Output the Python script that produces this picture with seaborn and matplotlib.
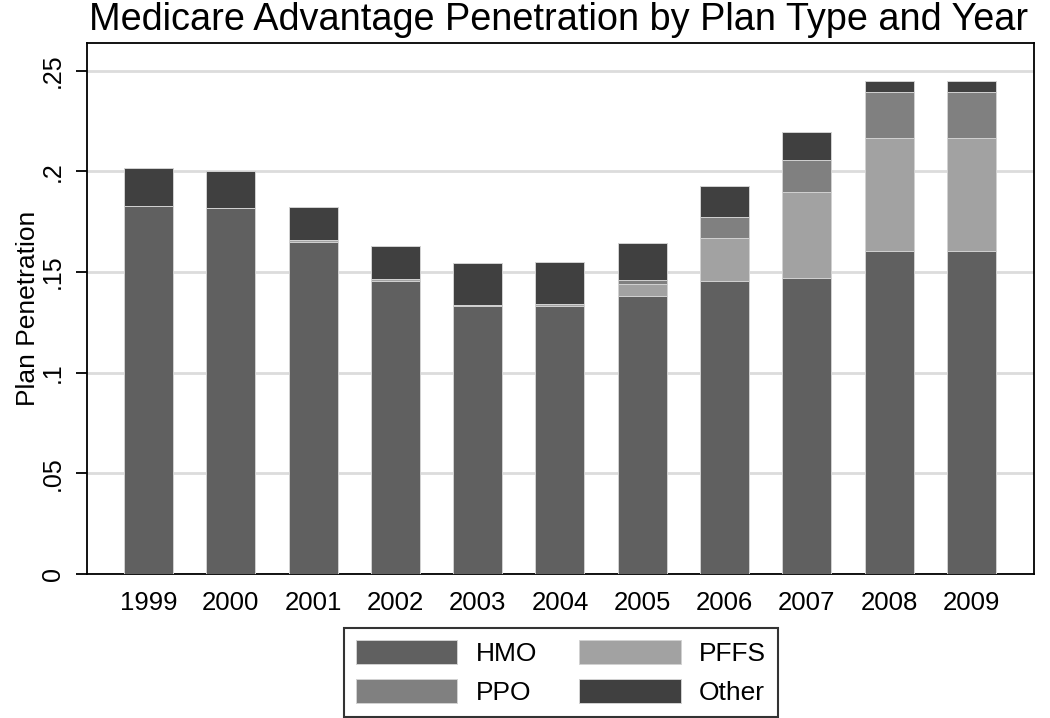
import numpy as np
import pandas as pd
import matplotlib
matplotlib.use("Agg")
import matplotlib.pyplot as plt
from matplotlib.patches import Patch
import seaborn as sns

# values (share of Medicare beneficiaries)
years = ["1999", "2000", "2001", "2002", "2003", "2004", "2005", "2006", "2007", "2008", "2009"]
hmo = [0.1826, 0.1816, 0.1647, 0.1458, 0.1329, 0.1329, 0.1382, 0.1458, 0.1470, 0.1604, 0.1606]
pffs = [0.0, 0.0, 0.0010, 0.0007, 0.0008, 0.0014, 0.0059, 0.0209, 0.0426, 0.0562, 0.0560]
ppo = [0.0, 0.0, 0.0, 0.0, 0.0, 0.0, 0.0021, 0.0109, 0.0162, 0.0228, 0.0228]
other = [0.0192, 0.0184, 0.0166, 0.0166, 0.0206, 0.0205, 0.0182, 0.0154, 0.0138, 0.0053, 0.0053]

colors = {"HMO": "#606060", "PFFS": "#a2a2a2", "PPO": "#808080", "Other": "#404040"}

df = pd.DataFrame({"year": years, "HMO": hmo, "PFFS": pffs, "PPO": ppo, "Other": other})
# cumulative heights, stacked bottom-up: HMO, PFFS, PPO, Other
stack = ["HMO", "PFFS", "PPO", "Other"]
cum = df[stack].cumsum(axis=1)

sns.set_style("white")
plt.rcParams["font.family"] = ["Liberation Sans", "DejaVu Sans"]
plt.rcParams["text.color"] = "black"
plt.rcParams["axes.labelcolor"] = "black"
plt.rcParams["xtick.color"] = "black"
plt.rcParams["ytick.color"] = "black"

fig = plt.figure(figsize=(10.5, 7.18), dpi=100)
ax = fig.add_axes([87 / 1050, 1 - 574 / 718, 947 / 1050, 531 / 718])

# draw tallest cumulative first so lower segments sit on top
for name in reversed(stack):
    sns.barplot(x=df["year"], y=cum[name], color=colors[name], saturation=1,
                width=0.595, edgecolor="#d2d2d2", linewidth=0.7, ax=ax, zorder=3)

ax.set_xlim(-0.747, 10.76)
ax.set_ylim(0, 0.2638)
yt = [0, 0.05, 0.1, 0.15, 0.2, 0.25]
ax.set_yticks(yt)
ax.set_yticklabels(["0", ".05", ".1", ".15", ".2", ".25"], rotation=90, va="center")
ax.grid(axis="y", color="#dcdcdc", linewidth=2, zorder=0)
ax.set_axisbelow(True)
ax.tick_params(axis="y", length=8, width=1.3, left=True, pad=8, labelsize=18)
ax.tick_params(axis="x", length=0, pad=12, labelsize=18.5)
for sp in ax.spines.values():
    sp.set_color("black")
    sp.set_linewidth(1.3)

ax.set_xlabel("")
ax.set_ylabel("Plan Penetration", fontsize=19)
ax.yaxis.set_label_coords(-0.05, 0.5)

fig.text(0.532, 0.958, "Medicare Advantage Penetration by Plan Type and Year",
         ha="center", va="baseline", fontsize=27.3)

order = ["HMO", "PPO", "PFFS", "Other"]
handles = [Patch(facecolor=colors[n], edgecolor="#d2d2d2", linewidth=0.7) for n in order]
leg = fig.legend(handles, order, loc="upper center", bbox_to_anchor=(0.534, 0.1253),
                 ncol=2, fontsize=19, frameon=True, fancybox=False, edgecolor="black",
                 handlelength=3.86, handleheight=1.0, handletextpad=0.68,
                 columnspacing=1.6, labelspacing=0.5, borderpad=0.45, borderaxespad=0)
leg.get_frame().set_linewidth(1.5)

fig.savefig("out.png", dpi=100)
